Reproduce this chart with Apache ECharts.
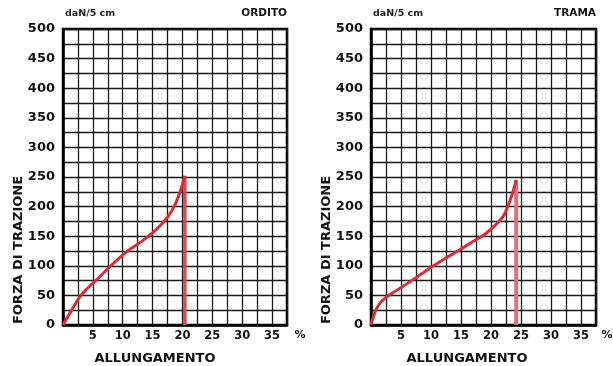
<!DOCTYPE html>
<html>
<head>
<meta charset="utf-8">
<script src="https://cdn.jsdelivr.net/npm/echarts@6/dist/echarts.min.js"></script>
<style>
html,body{margin:0;padding:0;background:#fff;}
#c{width:613px;height:366px;}
</style>
</head>
<body>
<div id="c"></div>
<script>
// ---- data ----
const yTicks = [0, 50, 100, 150, 200, 250, 300, 350, 400, 450, 500];
const xTicks = [5, 10, 15, 20, 25, 30, 35];
const orditoX = [0, 1.5, 2.85, 4.2, 5.7, 8, 10.7, 13, 15.7, 17.5, 18.7, 19.7, 20.4];
const orditoY = [0, 26, 48, 63, 77, 100, 124, 140, 162, 182, 202, 228, 252];
const tramaX = [0, 0.6, 1.5, 3.1, 5.3, 7.5, 9.8, 12.3, 14.8, 17, 19.2, 22, 23.4, 24.2];
const tramaY = [0, 20, 37, 51, 65, 80, 96, 112, 127, 141, 155, 183, 217, 245];
const titles = ['ORDITO', 'TRAMA'];
const unitLabel = 'daN/5 cm';
const xName = 'ALLUNGAMENTO';
const yName = 'FORZA DI TRAZIONE';

const FONT = 'DejaVu Sans';
const RED = '#d3303c';

function pairs(xs, ys) { return xs.map((x, i) => [x, ys[i]]); }
function dropLine(xs, ys) {
  const n = xs.length - 1;
  return [[xs[n], ys[n]], [xs[n], 0]];
}

const grids = [
  { left: 63, top: 29, width: 224, height: 296 },
  { left: 371, top: 29, width: 225, height: 296 }
];

function xAxis(idx) {
  return {
    gridIndex: idx, type: 'value', min: 0, max: 37.5, interval: 2.5,
    axisLine: { show: true, lineStyle: { color: '#000', width: 2.5 } },
    axisTick: { show: false },
    axisLabel: {
      margin: 5, color: '#111', fontFamily: FONT, fontWeight: 'bold', fontSize: 11.5,
      formatter: v => (xTicks.indexOf(v) >= 0 ? String(v) : '')
    },
    splitLine: { show: true, lineStyle: { color: '#1a1a1a', width: 1.3 } }
  };
}
function yAxis(idx) {
  return {
    gridIndex: idx, type: 'value', min: 0, max: 500, interval: 25,
    axisLine: { show: true, lineStyle: { color: '#000', width: 2.5 } },
    axisTick: { show: false },
    axisLabel: {
      margin: 8, color: '#111', fontFamily: FONT, fontWeight: 'bold', fontSize: 13,
      formatter: v => (yTicks.indexOf(v) >= 0 ? String(v) : '')
    },
    splitLine: { show: true, lineStyle: { color: '#1a1a1a', width: 1.3 } }
  };
}

const chart = echarts.init(document.getElementById('c'), null, { renderer: 'canvas' });

const graphics = [];
const yLabelX = [19, 327];
const pctX = [300, 607];
const xNameX = [155, 467];
grids.forEach((g, i) => {
  graphics.push({ type: 'text', left: g.left + 2, top: 9,
    style: { text: unitLabel, font: 'bold 9.5px ' + FONT, fill: '#222' } });
  graphics.push({ type: 'text', right: 613 - (g.left + g.width), top: 8,
    style: { text: titles[i], font: 'bold 10.5px ' + FONT, fill: '#111', align: 'right' } });
  graphics.push({ type: 'text', x: xNameX[i], y: 359,
    style: { text: xName, font: 'bold 13px ' + FONT, fill: '#111', align: 'center', verticalAlign: 'middle' } });
  graphics.push({ type: 'text', x: pctX[i], y: 335,
    style: { text: '%', font: 'bold 11px ' + FONT, fill: '#111', align: 'center', verticalAlign: 'middle' } });
  graphics.push({ type: 'text', x: yLabelX[i], y: 250, rotation: Math.PI / 2,
    style: { text: yName, font: 'bold 13px ' + FONT, fill: '#111', align: 'center', verticalAlign: 'middle' } });
});

chart.setOption({
  animation: false,
  backgroundColor: '#fff',
  grid: grids.map(g => Object.assign({ show: true, borderColor: '#000', borderWidth: 2.5, backgroundColor: '#fff' }, g)),
  xAxis: [xAxis(0), xAxis(1)],
  yAxis: [yAxis(0), yAxis(1)],
  graphic: graphics,
  series: [
    { type: 'line', xAxisIndex: 0, yAxisIndex: 0, data: pairs(orditoX, orditoY), smooth: 0.4,
      showSymbol: false, lineStyle: { color: RED, width: 3 }, z: 5 },
    { type: 'line', xAxisIndex: 0, yAxisIndex: 0, data: dropLine(orditoX, orditoY),
      showSymbol: false, lineStyle: { color: '#d84a58', width: 3.5 }, z: 4 },
    { type: 'line', xAxisIndex: 1, yAxisIndex: 1, data: pairs(tramaX, tramaY), smooth: 0.3,
      showSymbol: false, lineStyle: { color: RED, width: 3 }, z: 5 },
    { type: 'line', xAxisIndex: 1, yAxisIndex: 1, data: dropLine(tramaX, tramaY),
      showSymbol: false, lineStyle: { color: '#e0707c', width: 4 }, z: 4 }
  ]
});
</script>
</body>
</html>
